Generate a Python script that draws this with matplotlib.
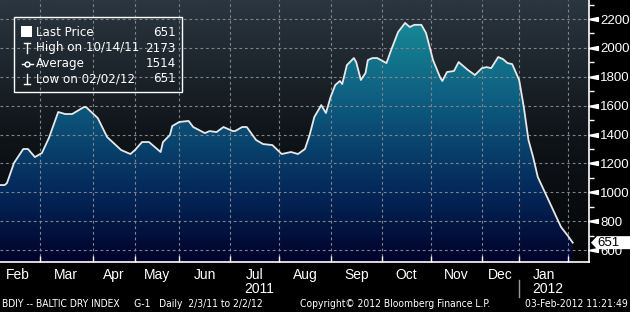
import numpy as np
import matplotlib
matplotlib.use("Agg")
import matplotlib.pyplot as plt
import matplotlib.transforms as mtransforms
from matplotlib import font_manager
from matplotlib.colors import LinearSegmentedColormap
from matplotlib.lines import Line2D
from matplotlib.patches import Rectangle, Polygon
from matplotlib.path import Path

# Baltic Dry Index, daily (trading day index from 2/3/11)
days = [0, 2, 3, 6, 10, 12, 15, 18, 21, 25, 28, 31, 36, 37, 42, 46, 52, 56, 58, 61,
        64, 69, 70, 73, 74, 77, 81, 83, 88, 90, 93, 96, 100, 101, 104, 106, 110, 113,
        117, 121, 125, 128, 131, 133, 135, 138, 140, 142, 144, 146, 147, 149, 152, 153,
        155, 157, 158, 160, 162, 166, 168, 171, 174, 176, 178, 181, 183, 186, 189, 190,
        192, 195, 197, 201, 204, 207, 209, 211, 214, 216, 218, 220, 223, 225, 227, 229,
        231, 235, 238, 241, 244, 246]
values = [1050, 1050, 1064, 1203, 1300, 1300, 1244, 1272, 1376, 1556, 1542, 1542, 1590,
          1590, 1514, 1383, 1293, 1265, 1293, 1348, 1348, 1279, 1348, 1397, 1459, 1487,
          1494, 1452, 1410, 1424, 1417, 1452, 1424, 1424, 1452, 1452, 1362, 1334, 1327,
          1265, 1279, 1265, 1300, 1397, 1521, 1604, 1549, 1660, 1743, 1771, 1750, 1881,
          1930, 1902, 1778, 1826, 1916, 1930, 1930, 1895, 1985, 2110, 2173, 2145, 2160,
          2160, 2103, 1916, 1798, 1771, 1833, 1840, 1902, 1847, 1812, 1860, 1867, 1860,
          1937, 1923, 1895, 1888, 1778, 1590, 1362, 1244, 1106, 967, 863, 759, 697, 651]

month_names = ["Feb", "Mar", "Apr", "May", "Jun", "Jul", "Aug", "Sep", "Oct", "Nov", "Dec", "Jan"]
month_starts = [-2, 17, 40, 58, 77, 99, 120, 142, 164, 185, 207, 223, 244]
year_names = ["2011", "2012"]
year_month = [5, 11]          # month under which each year is written
year_break = 223              # first trading day of 2012

y_ticks = [600, 800, 1000, 1200, 1400, 1600, 1800, 2000, 2200]
legend_labels = ["Last Price", "High on 10/14/11", "Average", "Low on 02/02/12"]
legend_values = ["651", "2173", "1514", "651"]

footer_left = "BDIY -- BALTIC DRY INDEX     G-1   Daily  2/3/11 to 2/2/12"
footer_mid = "Copyright\u00a9 2012 Bloomberg Finance L.P."
footer_right = "03-Feb-2012 11:21:49"

names = {f.name for f in font_manager.fontManager.ttflist}
narrow = "Liberation Sans Narrow" if "Liberation Sans Narrow" in names else "Liberation Sans"
plt.rcParams["font.family"] = [narrow, "DejaVu Sans"]

W, H = 630, 312
fig = plt.figure(figsize=(W / 100, H / 100), dpi=100, facecolor="black")
ax = fig.add_axes([0, 50 / H, 589 / W, 262 / H])
xmin, xmax, ymin, ymax = 0, 253, 517, 2332
ax.set_xlim(xmin, xmax)
ax.set_ylim(ymin, ymax)


def fpx(x, y):
    return x / W, 1 - y / H


# background
grad = np.linspace(0, 1, 256).reshape(-1, 1)
bg_cmap = LinearSegmentedColormap.from_list("bg", ["#040506", "#10151a", "#2b3640"])
ax.imshow(grad, extent=[xmin, xmax, ymin, ymax], origin="lower", cmap=bg_cmap,
          aspect="auto", zorder=0, interpolation="bilinear")

# area with vertical gradient
fill_cmap = LinearSegmentedColormap.from_list(
    "fill", [(0, "#01022a"), (0.27, "#04285a"), (0.6, "#0d5a7e"), (0.93, "#178b97"), (1, "#1a929c")])
poly = ax.fill_between(days, values, ymin, color="none", lw=0)
im = ax.imshow(grad, extent=[xmin, xmax, ymin, ymax], origin="lower", cmap=fill_cmap,
               aspect="auto", zorder=1, interpolation="bilinear")
im.set_clip_path(poly.get_paths()[0], transform=ax.transData)
ax.plot(days, values, color="#e8e8e8", lw=1.3, zorder=3, solid_joinstyle="round")

# grid
ax.set_xticks(month_starts[1:])
ax.set_yticks(y_ticks)
ax.grid(True, color="#80858b", lw=0.8, linestyle=(0, (2.5, 2.5)), zorder=2)

for s in ["top", "left"]:
    ax.spines[s].set_visible(False)
for s in ["right", "bottom"]:
    ax.spines[s].set_color("white")
    ax.spines[s].set_linewidth(1.2)

# right axis
ax.yaxis.tick_right()
ax.set_yticks(range(700, 2400, 200), minor=True)
ax.tick_params(axis="y", which="major", length=0, pad=8, labelsize=9.5, labelcolor="white")
ax.tick_params(axis="y", which="minor", length=3.5, width=1, color="white", direction="out")
wedge = Path([(-1, 0), (1, 0.4), (1, -0.4), (-1, 0)])
ax.plot([1.0] * len(y_ticks), y_ticks, linestyle="none", marker=wedge, markersize=7,
        color="white", clip_on=False, zorder=5,
        transform=mtransforms.offset_copy(ax.get_yaxis_transform(), fig, x=4, units="dots"))

# bottom axis
mids = [(a + b) / 2 for a, b in zip(month_starts[:-1], month_starts[1:])]
ax.set_xticks(mids, minor=True)
ax.set_xticklabels([])
ax.set_xticklabels(month_names, minor=True)
ax.tick_params(axis="x", which="major", direction="in", length=4, width=1, color="white")
ax.tick_params(axis="x", which="minor", length=0, pad=4, labelsize=10, labelcolor="white")

xtrans = mtransforms.blended_transform_factory(ax.transData, fig.transFigure)
for name, m in zip(year_names, year_month):
    ax.text(mids[m] + 2, 1 - 289 / H, name, transform=xtrans, ha="center", va="center",
            color="white", fontsize=10)
ax.add_line(Line2D([year_break, year_break], [1 - 280 / H, 1 - 297 / H], transform=xtrans,
                   color="#9a9a9a", lw=1, clip_on=False))

# last price tag
last = values[-1]
anchor = mtransforms.ScaledTranslation(1.0, last, ax.get_yaxis_transform())
tag_t = fig.dpi_scale_trans + anchor
ax.add_patch(Polygon([(0.02, 0), (0.08, 0.065), (0.42, 0.065), (0.42, -0.065), (0.08, -0.065)],
                     closed=True, transform=tag_t, fc="white", ec="none", clip_on=False, zorder=10))
ax.text(0.085, 0, str(last), transform=tag_t, ha="left", va="center", fontsize=9.5,
        color="black", zorder=11, clip_on=False)

# legend box
fig.add_artist(Rectangle(fpx(14, 92), 168 / W, 75 / H, transform=fig.transFigure,
                         fill=False, ec="white", lw=1))
rows = [32, 48, 64, 79]
for lab, val, y in zip(legend_labels, legend_values, rows):
    fig.text(*fpx(36, y), lab, ha="left", va="center", color="white", fontsize=8.6,
             family="DejaVu Sans")
    fig.text(*fpx(176, y), val, ha="right", va="center", color="white", fontsize=8.6,
             family="DejaVu Sans")
fig.add_artist(Rectangle(fpx(21, 37), 11 / W, 11 / H, transform=fig.transFigure,
                         fc="white", ec="none"))
for xs, ys in [([27, 27], [43, 53]), ([24, 30], [43, 43]),
               ([22, 33], [64, 64]),
               ([27, 27], [74, 84]), ([24, 30], [84, 84])]:
    fig.add_artist(Line2D([x / W for x in xs], [1 - y / H for y in ys],
                          transform=fig.transFigure, color="white", lw=1))
fig.add_artist(Line2D([27 / W], [1 - 64 / H], transform=fig.transFigure, marker="o",
                      markersize=3.5, color="white", mfc="#20303a"))

# footer
foot = dict(va="center", color="white", fontsize=7.4, family="DejaVu Sans", fontstretch="condensed")
fig.text(*fpx(2, 304), footer_left, ha="left", **foot)
fig.text(*fpx(395, 304), footer_mid, ha="center", **foot)
fig.text(*fpx(628, 304), footer_right, ha="right", **foot)

fig.savefig("out.png", dpi=100, facecolor="black")
